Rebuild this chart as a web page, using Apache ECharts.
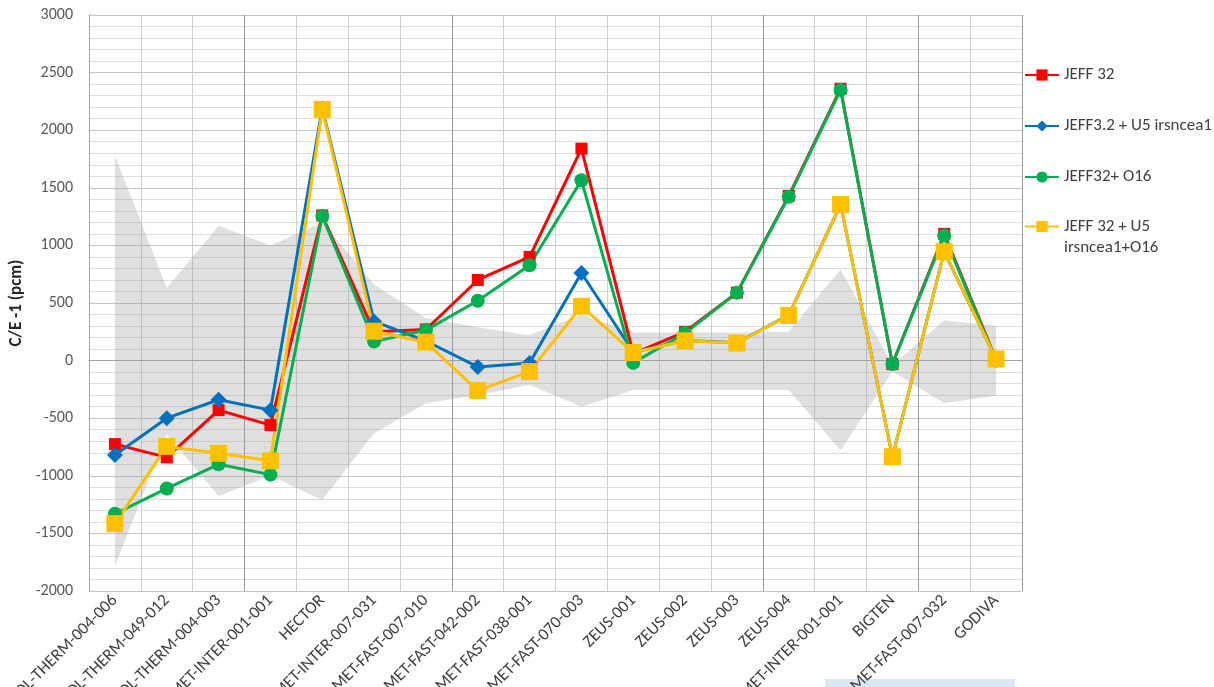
<!DOCTYPE html>
<html>
<head>
<meta charset="utf-8">
<title>C/E -1 (pcm)</title>
<script src="https://cdn.jsdelivr.net/npm/echarts@6/dist/echarts.min.js"></script>
<style>
    html, body {margin: 0; padding: 0; background: #fff;}
    #chart {width: 1214px; height: 687px;}
</style>
</head>
<body>
<div id="chart"></div>
<script>
// benchmark names (cut at the bottom edge like the source picture)
const benchmarks = [
    'HEU-SOL-THERM-004-006', 'HEU-SOL-THERM-049-012', 'HEU-SOL-THERM-004-003', 'HEU-MET-INTER-001-001',
    'HECTOR', 'HEU-MET-INTER-007-031', 'HEU-MET-FAST-007-010', 'HEU-MET-FAST-042-002',
    'HEU-MET-FAST-038-001', 'HEU-MET-FAST-070-003', 'ZEUS-001', 'ZEUS-002', 'ZEUS-003', 'ZEUS-004',
    'IEU-MET-INTER-001-001', 'BIGTEN', 'HEU-MET-FAST-007-032', 'GODIVA'
];

// experimental uncertainty envelope
const uncUpper = [1780, 630, 1170, 1000, 1200, 660, 370, 290, 220, 400, 245, 245, 245, 250, 790, -40, 350, 300];
const uncLower = [-1780, -640, -1175, -1000, -1210, -630, -370, -300, -210, -400, -255, -255, -255, -255, -780, -95, -370, -305];

const jeff32 = [-725, -840, -430, -560, 1260, 250, 270, 700, 900, 1840, 60, 250, 590, 1430, 2360, -30, 1100, 10];
const jeff32U5 = [-820, -500, -340, -430, 2190, 340, 170, -55, -20, 760, 75, 175, 155, 395, 1355, -835, 945, 12];
const jeff32O16 = [-1330, -1110, -900, -990, 1255, 165, 265, 520, 828, 1565, -20, 240, 588, 1422, 2350, -30, 1085, 0];
const jeff32U5O16 = [-1415, -745, -805, -870, 2180, 255, 160, -260, -95, 472, 70, 172, 152, 392, 1355, -835, 945, 14];

// category boundaries drawn darker (left edge of these categories)
const darkBoundaries = [3, 7, 13, 16];

const chart = echarts.init(document.getElementById('chart'));

const font = "Carlito, 'Liberation Sans', sans-serif";
const bandWidth = uncUpper.map((v, i) => v - uncLower[i]);

function lineSeries(name, data, color, symbol, size) {
    return {
        name: name,
        type: 'line',
        data: data,
        symbol: symbol,
        symbolSize: size,
        showSymbol: true,
        color: color,
        lineStyle: {width: 3, color: color},
        itemStyle: {color: color},
        z: 3
    };
}

const option = {
    animation: false,
    grid: {left: 89, right: 192, top: 15, bottom: 96, outerBoundsMode: 'none', containLabel: false},
    legend: [{
        orient: 'vertical',
        left: 1024,
        top: 66,
        padding: 0,
        itemGap: 33,
        itemWidth: 34,
        itemHeight: 14,
        selectedMode: false,
        textStyle: {fontFamily: font, fontSize: 17, color: '#404040', lineHeight: 18},
        data: ['JEFF 32', 'JEFF3.2 + U5 irsncea1', 'JEFF32+ O16']
    }, {
        orient: 'vertical',
        left: 1024,
        top: 195,
        padding: 0,
        itemWidth: 34,
        itemHeight: 14,
        selectedMode: false,
        // empty first line keeps the icon level with "JEFF 32 + U5"
        formatter: (name) => '\n' + name,
        textStyle: {fontFamily: font, fontSize: 17, color: '#404040', lineHeight: 21},
        data: ['JEFF 32 + U5\nirsncea1+O16']
    }],
    xAxis: [{
        type: 'category',
        data: benchmarks,
        boundaryGap: true,
        axisLine: {lineStyle: {color: '#a6a6a6', width: 1}},
        axisTick: {show: false},
        axisLabel: {
            interval: 0,
            rotate: 45,
            margin: 7,
            fontFamily: font,
            fontSize: 17,
            color: '#404040'
        },
        splitLine: {show: true, interval: 0, lineStyle: {color: '#cfcfcf', width: 1}}
    }, {
        type: 'category',
        data: benchmarks,
        boundaryGap: true,
        position: 'bottom',
        axisLine: {show: false},
        axisTick: {show: false},
        axisLabel: {show: false},
        splitLine: {
            show: true,
            interval: (idx) => darkBoundaries.indexOf(idx) >= 0,
            lineStyle: {color: '#9a9a9a', width: 1}
        }
    }],
    yAxis: {
        type: 'value',
        min: -2000,
        max: 3000,
        interval: 500,
        name: 'C/E -1 (pcm)',
        nameLocation: 'middle',
        nameRotate: 90,
        nameGap: 62,
        nameTextStyle: {fontFamily: font, fontSize: 17, fontWeight: 'bold', color: '#262626'},
        axisLine: {show: true, lineStyle: {color: '#a6a6a6'}},
        axisTick: {show: false},
        axisLabel: {
            fontFamily: font, fontSize: 16, color: '#595959', margin: 16,
            formatter: (v) => String(v)
        },
        splitLine: {lineStyle: {color: '#c4c4c4'}},
        minorTick: {show: false, splitNumber: 5},
        minorSplitLine: {show: true, lineStyle: {color: '#dddddd'}}
    },
    graphic: [{
        type: 'rect',
        left: 825,
        top: 679,
        shape: {width: 190, height: 12},
        style: {fill: '#dce6f2'}
    }],
    series: [{
        name: 'unc-low',
        type: 'line',
        data: uncLower,
        stack: 'unc',
        stackStrategy: 'all',
        symbol: 'none',
        lineStyle: {width: 0},
        silent: true,
        z: 1
    }, {
        name: 'unc-band',
        type: 'line',
        data: bandWidth,
        stack: 'unc',
        stackStrategy: 'all',
        symbol: 'none',
        lineStyle: {width: 0},
        areaStyle: {color: 'rgba(150,150,150,0.42)'},
        silent: true,
        z: 1
    },
        lineSeries('JEFF 32', jeff32, '#ff0000', 'rect', 12),
        lineSeries('JEFF3.2 + U5 irsncea1', jeff32U5, '#0070c0', 'diamond', 16),
        lineSeries('JEFF32+ O16', jeff32O16, '#00b050', 'circle', 14),
        lineSeries('JEFF 32 + U5\nirsncea1+O16', jeff32U5O16, '#ffc000', 'rect', 17)
    ]
};

chart.setOption(option);
</script>
</body>
</html>
